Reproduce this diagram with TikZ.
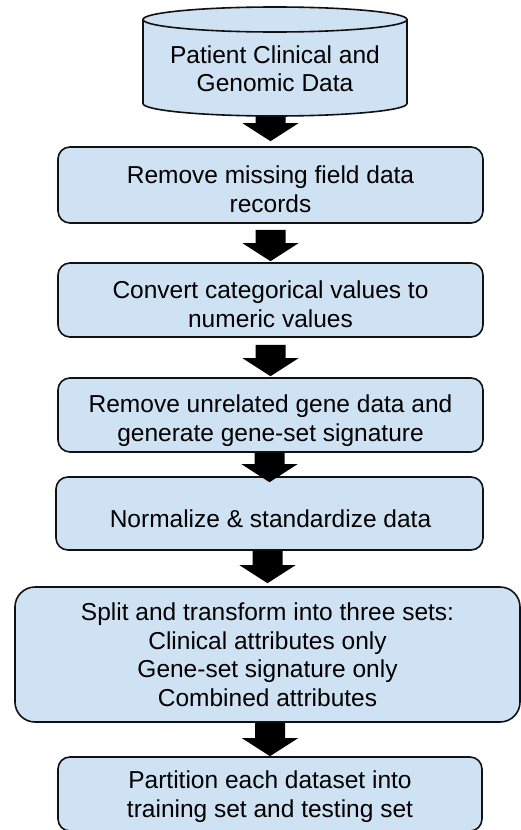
\documentclass[tikz,border=0pt]{standalone}
\usepackage{fontspec}
\setmainfont{Liberation Sans}
\usetikzlibrary{calc}
\definecolor{boxfill}{HTML}{CFE2F3}
\definecolor{boxline}{HTML}{111111}
\tikzset{
  flowbox/.style={draw=boxline, line width=1.6pt, fill=boxfill, rounded corners=12pt, minimum width=425pt, inner sep=0pt},
  boxtext/.style={align=center, anchor=base, inner sep=0pt, font=\fontsize{24.5}{28.5}\selectfont, text=black},
  arrowfill/.style={fill=black},
}
% #1 source node, #2 target node, #3 shaft start below source south, #4 tip below target north
\newcommand\blockarrow[4]{%
  \fill[arrowfill] let \p1=(#1.south), \p2=(#2.north) in
    ({\x2-15pt},{\y1-(#3pt)}) -- ({\x2+15pt},{\y1-(#3pt)}) --
    ({\x2+15pt},{\y2-(#4pt)+18pt}) -- ({\x2+28pt},{\y2-(#4pt)+18pt}) --
    ({\x2},{\y2-(#4pt)}) --
    ({\x2-28pt},{\y2-(#4pt)+18pt}) -- ({\x2-15pt},{\y2-(#4pt)+18pt}) -- cycle;}
\begin{document}
\begin{tikzpicture}[x=1pt,y=-1pt]
\useasboundingbox (0,0) rectangle (521,830);
\fill[white] (0,0) rectangle (521,830);

% boxes
\node[flowbox, minimum height=76pt] (b1) at (270.5,185) {};
\node[flowbox, minimum height=74pt] (b2) at (270.5,300) {};
\node[flowbox, minimum height=74pt] (b3) at (270.5,415) {};
\node[flowbox, minimum height=73pt, minimum width=427pt] (b4) at (269.5,513.5) {};
\node[flowbox, minimum height=135pt, minimum width=505pt, rounded corners=20pt] (b5) at (267.5,654.5) {};
\node[flowbox, minimum height=74pt, minimum width=424pt] (b6) at (270,794) {};

% cylinder anchor node
\node[minimum width=264pt, minimum height=109pt, inner sep=0pt] (cyl) at (275,61.5) {};

% arrows
\blockarrow{cyl}{b1}{-8}{-5}
\blockarrow{b1}{b2}{6}{-1}
\blockarrow{b2}{b3}{7}{-1}
\blockarrow{b3}{b4}{0}{6}
\blockarrow{b4}{b5}{0}{-3}
\blockarrow{b5}{b6}{0}{0}

% cylinder drawn on top of first arrow
\filldraw[draw=boxline, line width=1.6pt, fill=boxfill]
  (143,19.5) -- (143,103.5)
  arc[start angle=180, end angle=360, x radius=132pt, y radius=12.5pt]
  -- (407,19.5)
  arc[start angle=0, end angle=180, x radius=132pt, y radius=12.5pt] -- cycle;
\draw[draw=boxline, line width=1.6pt] (143,19.5)
  arc[start angle=180, end angle=360, x radius=132pt, y radius=12.5pt];

% texts (anchor=base is the baseline of the last line)
\node[boxtext] (t0) at (275,91.7) {Patient Clinical and\\Genomic Data};
\node[boxtext] (t1) at (270.5,212) {Remove missing field data\\records};
\node[boxtext] (t2) at (270.5,327) {Convert categorical values to\\numeric values};
\node[boxtext] (t3) at (270.5,441) {Remove unrelated gene data and\\generate gene-set signature};
\node[boxtext] (t4) at (270.5,527) {Normalize \& standardize data};
\node[boxtext] (t5) at (267.5,706) {Split and transform into three sets:\\Clinical attributes only\\Gene-set signature only\\Combined attributes};
\node[boxtext] (t6) at (270,817) {Partition each dataset into\\training set and testing set};
\end{tikzpicture}
\end{document}
